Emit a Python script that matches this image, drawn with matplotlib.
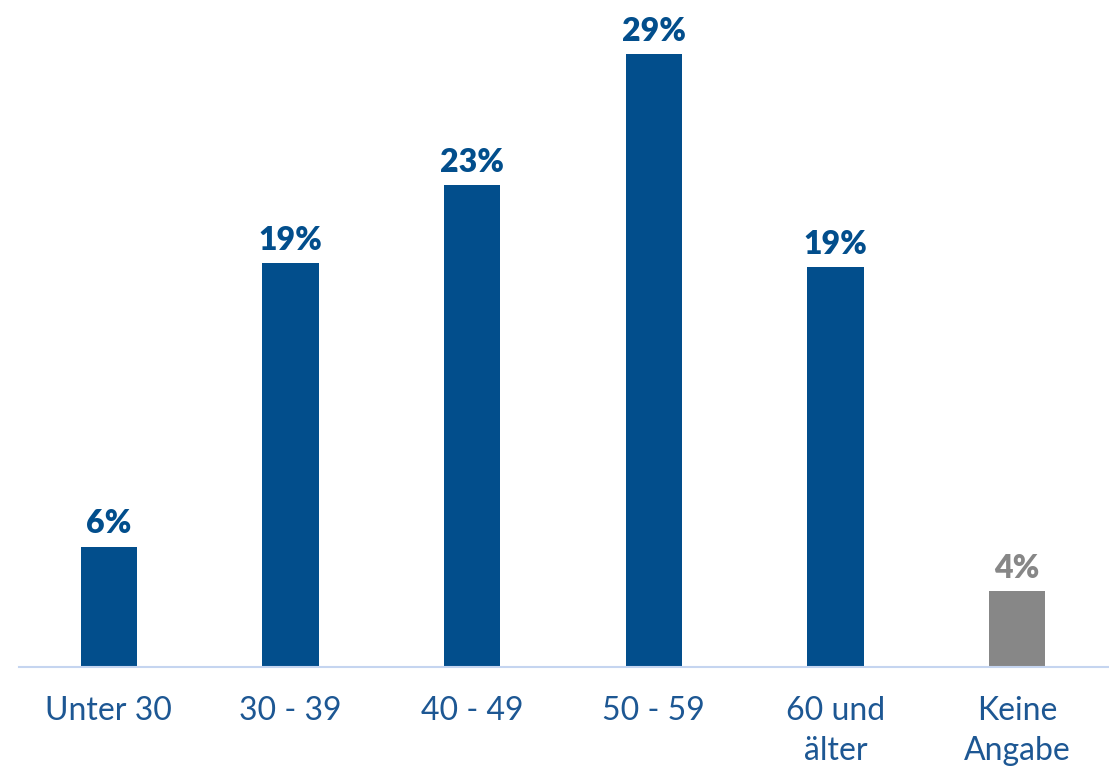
import matplotlib.pyplot as plt

plt.rcParams['font.family'] = ['Lato', 'DejaVu Sans']

categories = ["Unter 30", "30 - 39", "40 - 49", "50 - 59", "60 und\nälter", "Keine\nAngabe"]
values = [5.7, 19.1, 22.8, 29.0, 18.9, 3.6]
labels = ["6%", "19%", "23%", "29%", "19%", "4%"]

blue = "#024e8c"
grey = "#878787"
colors = [blue] * 5 + [grey]

fig = plt.figure(figsize=(11.09, 7.66), dpi=100)
ax = fig.add_axes([0.0171, 0.1292, 0.9829, 0.8708])

x = range(len(categories))
bars = ax.bar(x, values, width=0.31, color=colors)

for b, lab, c in zip(bars, labels, colors):
    ax.annotate(lab, (b.get_x() + b.get_width() / 2, b.get_height()),
                xytext=(0, 6), textcoords="offset points",
                ha="center", va="bottom", fontsize=23, fontweight="heavy", color=c)

ax.set_xlim(-0.495, 5.506)
ax.set_ylim(0, 31.55)
ax.set_xticks(list(x))
ax.set_xticklabels(categories, fontsize=23, color="#1d5793", linespacing=1.4)
ax.tick_params(axis="x", length=0, pad=21)
ax.set_yticks([])
for s in ["top", "right", "left"]:
    ax.spines[s].set_visible(False)
ax.spines["bottom"].set_color("#c5d5f0")
ax.spines["bottom"].set_linewidth(1.5)

fig.savefig("out.png")
plt.close(fig)
